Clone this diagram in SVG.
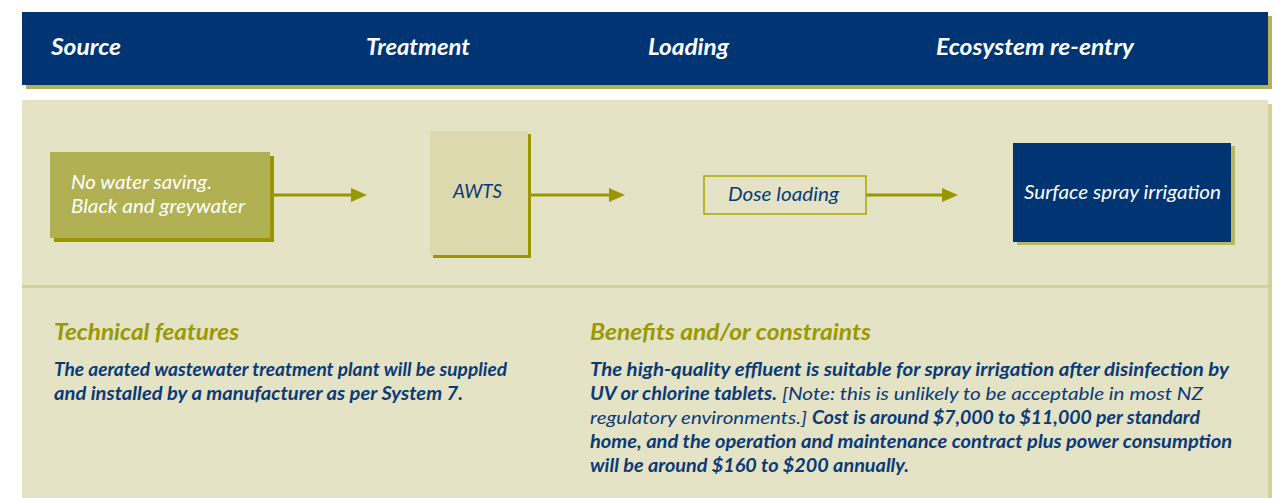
<svg xmlns="http://www.w3.org/2000/svg" width="1280" height="498" viewBox="0 0 1280 498">
<style>
.hdr{font-family:Lato,"Liberation Sans",sans-serif;font-style:italic;font-weight:700;font-size:22px;fill:#ffffff}
.nodeW{font-family:Lato,"Liberation Sans",sans-serif;font-style:italic;font-weight:400;font-size:19px;fill:#ffffff}
.nodeN{font-family:Lato,"Liberation Sans",sans-serif;font-style:italic;font-weight:400;font-size:19px;fill:#0b3a78}
.ttl{font-family:Lato,"Liberation Sans",sans-serif;font-style:italic;font-weight:700;font-size:22px;fill:#999900}
.bb{font-family:Lato,"Liberation Sans",sans-serif;font-style:italic;font-weight:700;font-size:18px;fill:#0b3a78}
.br{font-family:Lato,"Liberation Sans",sans-serif;font-style:italic;font-weight:400;font-size:18px;fill:#0b3a78}
.conn{stroke:#999700;stroke-width:3;fill:none}
</style>
<defs>
<marker id="ah" markerWidth="16" markerHeight="14" refX="4" refY="7" orient="auto" markerUnits="userSpaceOnUse">
<path d="M0,0 L16,7 L0,14 z" fill="#999700"/>
</marker>
</defs>
<rect x="0" y="0" width="1280" height="498" fill="#ffffff"/>
<!-- header -->
<g id="header">
<rect x="26" y="16" width="1246" height="73" fill="#b3b25a"/>
<rect x="22" y="12" width="1246" height="73" fill="#003473"/>
<text class="hdr" x="51" y="55" textLength="70" lengthAdjust="spacingAndGlyphs">Source</text>
<text class="hdr" x="366" y="55" textLength="104" lengthAdjust="spacingAndGlyphs">Treatment</text>
<text class="hdr" x="648" y="55" textLength="81" lengthAdjust="spacingAndGlyphs">Loading</text>
<text class="hdr" x="936" y="55" textLength="198" lengthAdjust="spacingAndGlyphs">Ecosystem re-entry</text>
</g>
<!-- panel -->
<g id="panel">
<rect x="26" y="104" width="1246" height="394" fill="#d3d296"/>
<rect x="22" y="100" width="1246" height="398" fill="#e4e3c5"/>
<rect x="22" y="285" width="1246" height="3" fill="#d3d296"/>
</g>
<!-- connectors -->
<g id="connectors">
<line class="conn" x1="274" y1="195" x2="355" y2="195" marker-end="url(#ah)"/>
<line class="conn" x1="531" y1="195" x2="613" y2="195" marker-end="url(#ah)"/>
<line class="conn" x1="866" y1="195" x2="946" y2="195" marker-end="url(#ah)"/>
</g>
<g id="node-source">
<rect x="54" y="156" width="220" height="86" fill="#999700"/>
<rect x="50" y="152" width="220" height="86" fill="#b1b053"/>
<text class="nodeW" x="71" y="189" textLength="141" lengthAdjust="spacingAndGlyphs">No water saving.</text>
<text class="nodeW" x="71" y="213" textLength="174" lengthAdjust="spacingAndGlyphs">Black and greywater</text>
</g>
<g id="node-awts">
<rect x="433" y="134" width="98" height="124" fill="#999700"/>
<rect x="430" y="131" width="98" height="124" fill="#dbd9ad"/>
<text class="nodeN" x="453" y="198" textLength="49" lengthAdjust="spacingAndGlyphs">AWTS</text>
</g>
<g id="node-dose">
<rect x="704" y="176" width="162" height="38" fill="#e4e3c5" stroke="#a8a600" stroke-width="1.5"/>
<text class="nodeN" x="728" y="201" textLength="111" lengthAdjust="spacingAndGlyphs">Dose loading</text>
</g>
<g id="node-surface">
<rect x="1017" y="146" width="218" height="99" fill="#b8b765"/>
<rect x="1013" y="143" width="218" height="99" fill="#003473"/>
<text class="nodeW" x="1024" y="199" textLength="197" lengthAdjust="spacingAndGlyphs">Surface spray irrigation</text>
</g>
<!-- technical features -->
<g id="technical-features">
<text class="ttl" x="54" y="340" textLength="185" lengthAdjust="spacingAndGlyphs">Technical features</text>
<text class="bb" x="54" y="376" textLength="453" lengthAdjust="spacingAndGlyphs">The aerated wastewater treatment plant will be supplied</text>
<text class="bb" x="54" y="400" textLength="409" lengthAdjust="spacingAndGlyphs">and installed by a manufacturer as per System 7.</text>
</g>
<!-- benefits -->
<g id="benefits">
<text class="ttl" x="590" y="340" textLength="281" lengthAdjust="spacingAndGlyphs">Benefits and/or constraints</text>
<text class="bb" x="590" y="376" textLength="639" lengthAdjust="spacingAndGlyphs">The high-quality effluent is suitable for spray irrigation after disinfection by</text>
<text class="bb" x="590" y="400" textLength="187" lengthAdjust="spacingAndGlyphs">UV or chlorine tablets.</text>
<text class="br" x="782" y="400" textLength="421" lengthAdjust="spacingAndGlyphs">[Note: this is unlikely to be acceptable in most NZ</text>
<text class="br" x="590" y="424" textLength="217" lengthAdjust="spacingAndGlyphs">regulatory environments.]</text>
<text class="bb" x="812" y="424" textLength="388" lengthAdjust="spacingAndGlyphs">Cost is around $7,000 to $11,000 per standard</text>
<text class="bb" x="590" y="448" textLength="642" lengthAdjust="spacingAndGlyphs">home, and the operation and maintenance contract plus power consumption</text>
<text class="bb" x="590" y="472" textLength="319" lengthAdjust="spacingAndGlyphs">will be around $160 to $200 annually.</text>
</g>
</svg>
